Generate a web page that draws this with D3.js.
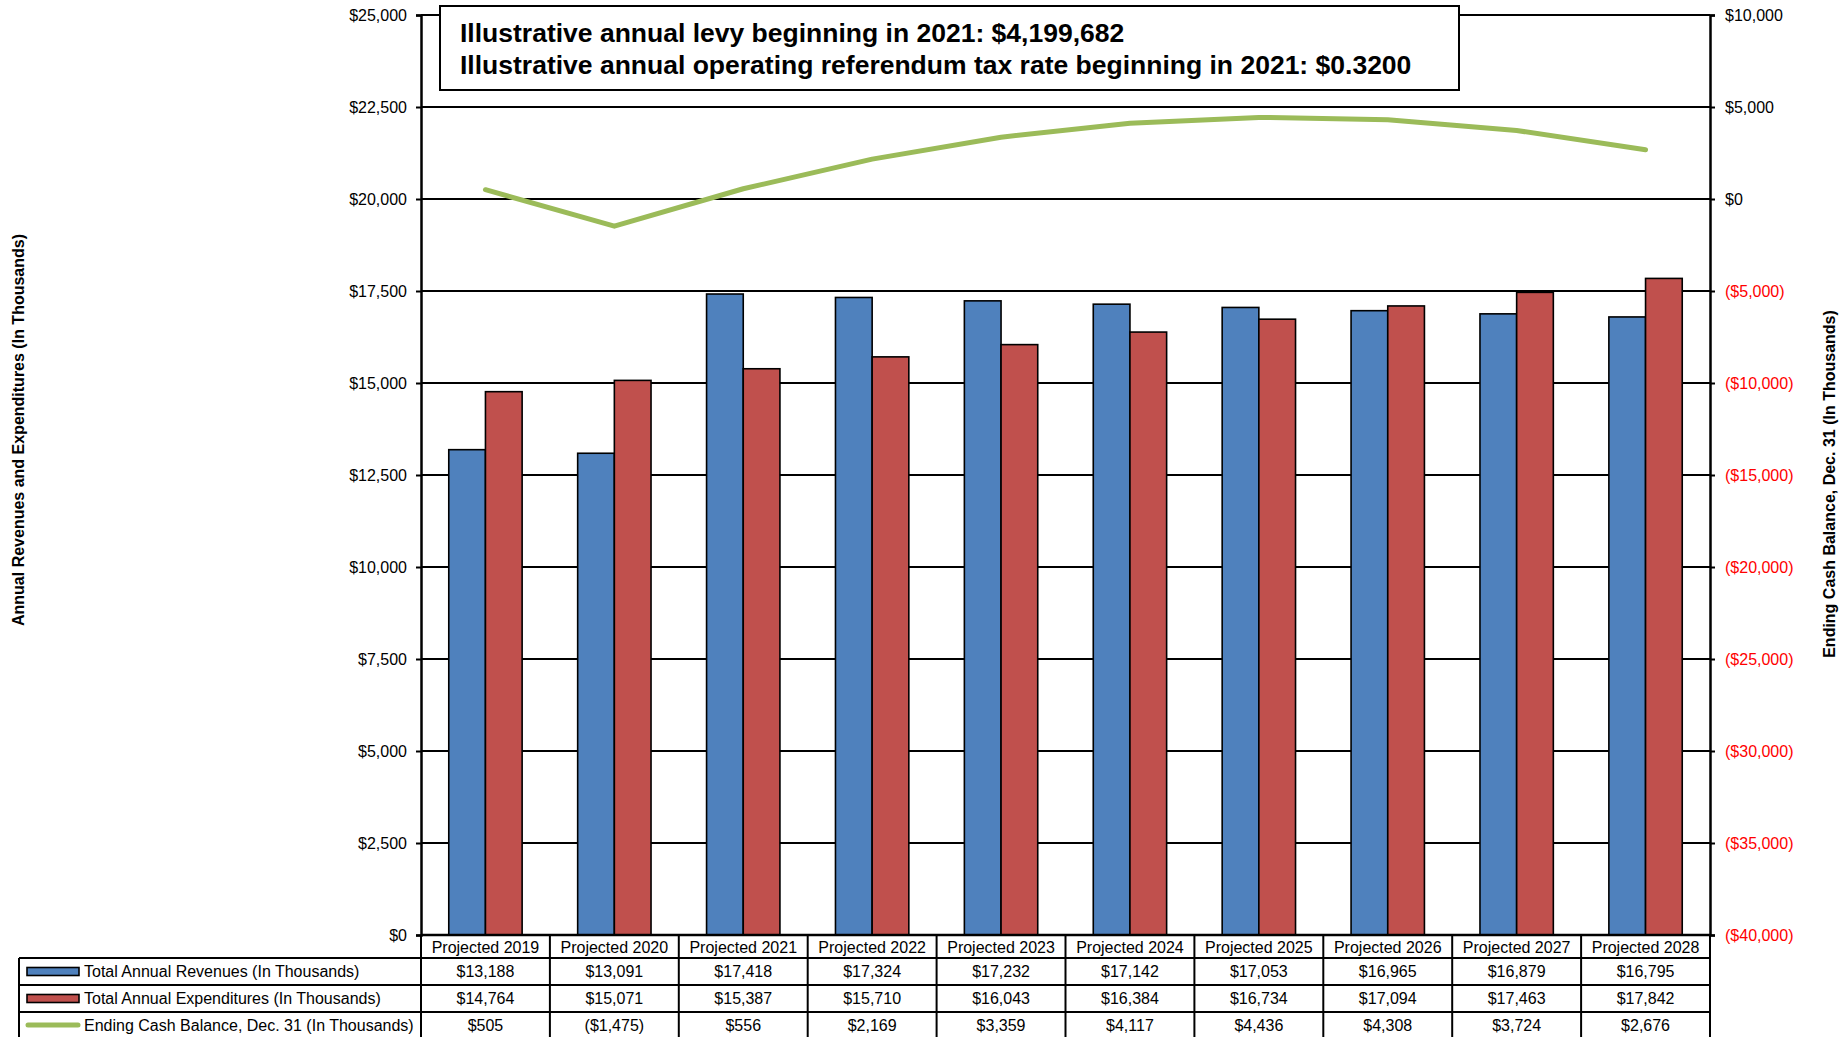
<!DOCTYPE html>
<html>
<head>
<meta charset="utf-8">
<script src="https://cdn.jsdelivr.net/npm/d3@7"></script>
<style>
  html, body { margin: 0; padding: 0; background: #fff; }
  svg { display: block; font-family: "Liberation Sans", Arial, sans-serif; }
</style>
</head>
<body>
<svg id="chart" width="1848" height="1037"></svg>
<script>
// Projection categories and series (values in thousands)
const categories = ["Projected 2019", "Projected 2020", "Projected 2021", "Projected 2022", "Projected 2023",
                    "Projected 2024", "Projected 2025", "Projected 2026", "Projected 2027", "Projected 2028"];
const revenues = [13188, 13091, 17418, 17324, 17232, 17142, 17053, 16965, 16879, 16795];
const expenditures = [14764, 15071, 15387, 15710, 16043, 16384, 16734, 17094, 17463, 17842];
const cashBalance = [505, -1475, 556, 2169, 3359, 4117, 4436, 4308, 3724, 2676];

const seriesNames = ["Total Annual Revenues (In Thousands)",
                     "Total Annual Expenditures (In Thousands)",
                     "Ending Cash Balance, Dec. 31 (In Thousands)"];
const leftTicks = [0, 2500, 5000, 7500, 10000, 12500, 15000, 17500, 20000, 22500, 25000];
const rightTicks = [-40000, -35000, -30000, -25000, -20000, -15000, -10000, -5000, 0, 5000, 10000];
const titleLines = ["Illustrative annual levy beginning in 2021: $4,199,682",
                    "Illustrative annual operating referendum tax rate beginning in 2021: $0.3200"];
const leftTitle = "Annual Revenues and Expenditures (In Thousands)";
const rightTitle = "Ending Cash Balance, Dec. 31 (In Thousands)";

const COLORS = { rev: "#4F81BD", exp: "#C0504D", cash: "#9BBB59" };

const plot = { left: 421, right: 1710, top: 15, bottom: 935 };
const tableLeft = 19;
const rowLines = [958, 985, 1012];
const rowCenters = [971.5, 998.5, 1025];
const H = 1037;

const svg = d3.select("#chart");

const x = d3.scaleBand().domain(categories).range([plot.left, plot.right]).padding(0);
const xInner = d3.scaleBand().domain(["rev", "exp"]).range([0, x.bandwidth()]).paddingInner(0).paddingOuter(0.757);
const yL = d3.scaleLinear().domain([0, 25000]).range([plot.bottom, plot.top]);
const yR = d3.scaleLinear().domain([-40000, 10000]).range([plot.bottom, plot.top]);

const fmtMoney = d3.format(",.0f");
const money = v => v < 0 ? "($" + fmtMoney(-v) + ")" : "$" + fmtMoney(v);

// Horizontal gridlines
svg.append("g")
  .selectAll("line")
  .data(leftTicks)
  .join("line")
  .attr("x1", plot.left).attr("x2", plot.right)
  .attr("y1", d => yL(d)).attr("y2", d => yL(d))
  .attr("stroke", "#000").attr("stroke-width", 2);

// Left axis
const axL = svg.append("g")
  .attr("transform", `translate(${plot.left},0)`)
  .call(d3.axisLeft(yL).tickValues(leftTicks).tickSize(5).tickPadding(9).tickFormat(money));
axL.select(".domain").attr("stroke", "#000").attr("stroke-width", 2.5);
axL.selectAll(".tick line").attr("stroke", "#000").attr("stroke-width", 2);
axL.selectAll(".tick text").attr("font-size", 16).attr("fill", "#000")
  .attr("font-family", "Liberation Sans, Arial, sans-serif");

// Right axis
const axR = svg.append("g")
  .attr("transform", `translate(${plot.right},0)`)
  .call(d3.axisRight(yR).tickValues(rightTicks).tickSize(5).tickPadding(10).tickFormat(money));
axR.select(".domain").attr("stroke", "#000").attr("stroke-width", 2.5);
axR.selectAll(".tick line").attr("stroke", "#000").attr("stroke-width", 2);
axR.selectAll(".tick text").attr("font-size", 16)
  .attr("fill", d => d < 0 ? "#FF0000" : "#000")
  .attr("font-family", "Liberation Sans, Arial, sans-serif");

// Bars
const barData = categories.flatMap((c, i) => [
  { c, key: "rev", v: revenues[i] },
  { c, key: "exp", v: expenditures[i] }
]);
svg.append("g")
  .selectAll("rect")
  .data(barData)
  .join("rect")
  .attr("x", d => x(d.c) + xInner(d.key))
  .attr("width", xInner.bandwidth())
  .attr("y", d => yL(d.v))
  .attr("height", d => yL(0) - yL(d.v))
  .attr("fill", d => COLORS[d.key])
  .attr("stroke", "#000").attr("stroke-width", 1.6);

// Cash balance line
const line = d3.line()
  .x((d, i) => x(categories[i]) + x.bandwidth() / 2)
  .y(d => yR(d));
svg.append("path")
  .datum(cashBalance)
  .attr("d", line)
  .attr("fill", "none")
  .attr("stroke", COLORS.cash)
  .attr("stroke-width", 5)
  .attr("stroke-linejoin", "round")
  .attr("stroke-linecap", "round");

// Redraw axis baseline on top of bars
svg.append("line")
  .attr("x1", plot.left).attr("x2", plot.right)
  .attr("y1", yL(0)).attr("y2", yL(0))
  .attr("stroke", "#000").attr("stroke-width", 2.5);

// Title box
const box = svg.append("g");
box.append("rect")
  .attr("x", 440).attr("y", 6).attr("width", 1019).attr("height", 84)
  .attr("fill", "#fff").attr("stroke", "#000").attr("stroke-width", 2);
box.selectAll("text")
  .data(titleLines)
  .join("text")
  .attr("x", 460)
  .attr("y", (d, i) => 42 + i * 32)
  .attr("font-size", 26.5)
  .attr("font-weight", "bold")
  .attr("fill", "#000")
  .text(d => d);

// Axis titles
svg.append("text")
  .attr("transform", `translate(24,430) rotate(-90)`)
  .attr("text-anchor", "middle")
  .attr("font-size", 16).attr("font-weight", "bold")
  .text(leftTitle);
svg.append("text")
  .attr("transform", `translate(1835,484) rotate(-90)`)
  .attr("text-anchor", "middle")
  .attr("font-size", 16).attr("font-weight", "bold")
  .text(rightTitle);

// Data table
const table = svg.append("g");
// category row verticals and all column verticals
const colEdges = categories.map(c => x(c)).concat([plot.right]);
table.selectAll("line.col")
  .data(colEdges)
  .join("line")
  .attr("class", "col")
  .attr("x1", d => d).attr("x2", d => d)
  .attr("y1", plot.bottom).attr("y2", H)
  .attr("stroke", "#000").attr("stroke-width", 2);
table.append("line")
  .attr("x1", tableLeft).attr("x2", tableLeft)
  .attr("y1", rowLines[0]).attr("y2", H)
  .attr("stroke", "#000").attr("stroke-width", 2);
table.selectAll("line.row")
  .data(rowLines)
  .join("line")
  .attr("class", "row")
  .attr("x1", tableLeft).attr("x2", plot.right)
  .attr("y1", d => d).attr("y2", d => d)
  .attr("stroke", "#000").attr("stroke-width", 2);

// Category labels
table.selectAll("text.cat")
  .data(categories)
  .join("text")
  .attr("class", "cat")
  .attr("x", d => x(d) + x.bandwidth() / 2)
  .attr("y", 947)
  .attr("dy", "0.35em")
  .attr("text-anchor", "middle")
  .attr("font-size", 16)
  .text(d => d);

// Values per row
[revenues, expenditures, cashBalance].forEach((arr, r) => {
  table.append("g")
    .selectAll("text")
    .data(arr)
    .join("text")
    .attr("x", (d, i) => x(categories[i]) + x.bandwidth() / 2)
    .attr("y", rowCenters[r])
    .attr("dy", "0.35em")
    .attr("text-anchor", "middle")
    .attr("font-size", 16)
    .text(d => money(d));
});

// Legend keys and names
[0, 1].forEach(r => {
  table.append("rect")
    .attr("x", 27).attr("y", rowCenters[r] - 4)
    .attr("width", 52).attr("height", 8)
    .attr("fill", r === 0 ? COLORS.rev : COLORS.exp)
    .attr("stroke", "#000").attr("stroke-width", 1.6);
});
table.append("line")
  .attr("x1", 28).attr("x2", 78)
  .attr("y1", rowCenters[2]).attr("y2", rowCenters[2])
  .attr("stroke", COLORS.cash).attr("stroke-width", 5)
  .attr("stroke-linecap", "round");
table.selectAll("text.leg")
  .data(seriesNames)
  .join("text")
  .attr("class", "leg")
  .attr("x", 84)
  .attr("y", (d, i) => rowCenters[i])
  .attr("dy", "0.35em")
  .attr("font-size", 16)
  .text(d => d);
</script>
</body>
</html>
